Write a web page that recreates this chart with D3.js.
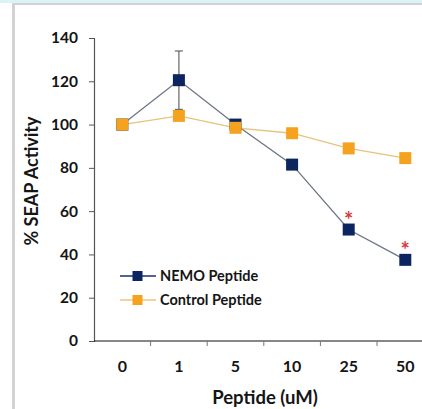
<!DOCTYPE html>
<html>
<head>
<meta charset="utf-8">
<script src="https://cdn.jsdelivr.net/npm/d3@7"></script>
<style>
  body { margin: 0; background: #fff; overflow: hidden; }
  text { font-family: Lato, "Open Sans", sans-serif; font-weight: bold; fill: #151515; }
</style>
</head>
<body>
<svg id="chart" width="422" height="409"></svg>
<script>
const doses = ["0", "1", "5", "10", "25", "50"];
const nemo = [100, 120.5, 100, 81.5, 51.5, 37.5];
const nemoErr = [0, 13.5, 0, 0, 0, 0];
const control = [100, 104, 98.5, 96, 89, 84.5];
const significant = [false, false, false, false, true, true];
const yTicks = [0, 20, 40, 60, 80, 100, 120, 140];

const svg = d3.select("#chart");

// page frame
svg.append("rect").attr("x", 0).attr("y", 0).attr("width", 422).attr("height", 3).attr("fill", "#d9f3f7");
svg.append("rect").attr("x", 12).attr("y", 3).attr("width", 410).attr("height", 2).attr("fill", "#d2d2d2");
svg.append("rect").attr("x", 12).attr("y", 3).attr("width", 3).attr("height", 406).attr("fill", "#d2d2d2");

const margin = {left: 94, top: 38, bottom: 341};

const x = d3.scaleBand()
  .domain(doses)
  .range([margin.left, margin.left + 6 * 56.6]);

const y = d3.scaleLinear()
  .domain([0, 140])
  .range([margin.bottom, margin.top]);

const cx = d => x(d) + x.bandwidth() / 2;

// y axis
const yAxis = svg.append("g")
  .attr("transform", `translate(${margin.left},0)`)
  .call(d3.axisLeft(y).tickValues(yTicks).tickSize(5).tickPadding(11));
yAxis.select(".domain").attr("stroke", "#555").attr("stroke-width", 1.2);
yAxis.selectAll(".tick line").attr("stroke", "#555");
yAxis.selectAll("text").style("font-size", "15.5px").style("font-family", "Lato, sans-serif");

// x axis (ticks between categories)
const xAxis = svg.append("g")
  .attr("transform", `translate(0,${margin.bottom})`);
xAxis.append("line")
  .attr("x1", margin.left).attr("x2", 422)
  .attr("stroke", "#111").attr("stroke-width", 1.2);
xAxis.selectAll(".sep")
  .data(doses.slice(1))
  .enter().append("line")
  .attr("x1", d => x(d)).attr("x2", d => x(d))
  .attr("y1", 0).attr("y2", 5)
  .attr("stroke", "#777");
xAxis.selectAll(".lbl")
  .data(doses)
  .enter().append("text")
  .attr("x", d => cx(d))
  .attr("y", 31)
  .attr("text-anchor", "middle")
  .style("font-size", "16px")
  .text(d => d);

// axis titles
svg.append("text")
  .attr("x", 265).attr("y", 404)
  .attr("text-anchor", "middle")
  .style("font-size", "18.5px")
  .text("Peptide (uM)");
svg.append("text")
  .attr("transform", "translate(38,181) rotate(-90)")
  .attr("text-anchor", "middle")
  .style("font-size", "18px")
  .text("% SEAP Activity");

const line = d3.line()
  .x((d, i) => cx(doses[i]))
  .y(d => y(d));

// error bars
nemo.forEach(function(v, i) {
  if (nemoErr[i] > 0) {
    const g = svg.append("g").attr("stroke", "#666").attr("stroke-width", 1.2);
    g.append("line").attr("x1", cx(doses[i])).attr("x2", cx(doses[i]))
      .attr("y1", y(v - nemoErr[i])).attr("y2", y(v + nemoErr[i]));
    [v - nemoErr[i], v + nemoErr[i]].forEach(function(e) {
      g.append("line").attr("x1", cx(doses[i]) - 4).attr("x2", cx(doses[i]) + 4)
        .attr("y1", y(e)).attr("y2", y(e));
    });
  }
});

// series
svg.append("path").datum(nemo).attr("d", line)
  .attr("fill", "none").attr("stroke", "#6d7585").attr("stroke-width", 1.3);
svg.append("path").datum(control).attr("d", line)
  .attr("fill", "none").attr("stroke", "#e8c27a").attr("stroke-width", 1.3);

const ms = 12;
svg.selectAll(".nemo").data(nemo).enter().append("rect")
  .attr("x", (d, i) => cx(doses[i]) - ms / 2)
  .attr("y", d => y(d) - ms / 2)
  .attr("width", ms).attr("height", ms)
  .attr("fill", "#0c2560");
svg.selectAll(".ctrl").data(control).enter().append("rect")
  .attr("x", (d, i) => cx(doses[i]) - ms / 2)
  .attr("y", d => y(d) - ms / 2)
  .attr("width", ms).attr("height", ms)
  .attr("fill", "#f5a21e");

// significance markers
nemo.forEach(function(v, i) {
  if (!significant[i]) return;
  svg.append("text")
    .attr("x", cx(doses[i]))
    .attr("y", y(v) - 2)
    .attr("text-anchor", "middle")
    .style("font-size", "22px")
    .style("font-weight", "bold")
    .style("fill", "#d63a3a")
    .text("*");
});

// legend
const legend = [
  {name: "NEMO Peptide", line: "#1b2f6e", fill: "#0c2560", y: 276},
  {name: "Control Peptide", line: "#f2c27a", fill: "#f5a21e", y: 300}
];
const lg = svg.append("g");
legend.forEach(function(l) {
  lg.append("line").attr("x1", 120).attr("x2", 156).attr("y1", l.y).attr("y2", l.y)
    .attr("stroke", l.line).attr("stroke-width", 1.3);
  lg.append("rect").attr("x", 137.5 - 5).attr("y", l.y - 5).attr("width", 10).attr("height", 10)
    .attr("fill", l.fill);
  lg.append("text").attr("x", 160).attr("y", l.y + 5)
    .style("font-size", "14.5px").text(l.name);
});
</script>
</body>
</html>
